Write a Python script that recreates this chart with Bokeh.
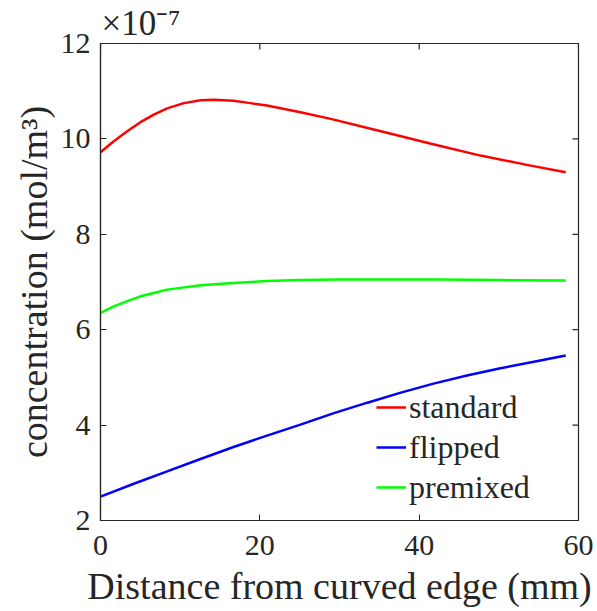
import math
from bokeh.plotting import figure
from bokeh.models import Range1d, Legend, LegendItem, FixedTicker
from bokeh.embed import file_html
from bokeh.resources import INLINE

# distance from curved edge (mm) and concentration (x 1e-7 mol/m^3)
x_standard = [0, 1.67, 3.35, 5.02, 6.69, 8.37, 10.46, 12.55, 14.2, 16.7, 18.8,
              20.9, 25.1, 28.9, 35.2, 41.5, 47.7, 54.0, 58.4]
y_standard = [9.72, 9.95, 10.16, 10.35, 10.51, 10.64, 10.75, 10.81, 10.82, 10.80, 10.75,
              10.70, 10.56, 10.42, 10.16, 9.90, 9.65, 9.44, 9.30]

x_flipped = [0, 4.18, 8.37, 12.55, 16.7, 20.9, 25.1, 29.3, 33.5, 37.7, 41.8,
             46.0, 50.2, 54.4, 58.4]
y_flipped = [2.50, 2.77, 3.03, 3.29, 3.54, 3.78, 4.01, 4.25, 4.47, 4.68, 4.87,
             5.04, 5.19, 5.33, 5.46]

x_premixed = [0, 1.67, 3.35, 5.02, 6.69, 8.37, 12.55, 16.7, 20.9, 25.1, 29.9,
              35.0, 41.9, 50.3, 58.4]
y_premixed = [6.35, 6.49, 6.60, 6.70, 6.77, 6.84, 6.93, 6.98, 7.02, 7.04, 7.05,
              7.05, 7.05, 7.04, 7.03]

x_ticks = [0, 20, 40, 60]
y_ticks = [2, 4, 6, 8, 10, 12]
series_names = ["standard", "flipped", "premixed"]
exponent_text = "×10⁻⁷"

FONT = "Liberation Serif"
AX = "#262626"

p = figure(width=597, height=611, output_backend="svg", toolbar_location=None,
           x_range=Range1d(0, 60), y_range=Range1d(2, 12),
           min_border_left=100, min_border_right=19, min_border_top=43, min_border_bottom=91)
p.grid.visible = False
p.outline_line_color = AX
p.outline_line_width = 1.2

p.title.text = exponent_text
p.title.text_font = FONT
p.title.text_font_size = "35px"
p.title.text_font_style = "normal"
p.title.text_color = AX
p.title.align = "left"
p.title.offset = 1
p.title.standoff = 1

for ax in (p.xaxis[0], p.yaxis[0]):
    ax.axis_line_color = AX
    ax.axis_line_width = 1.2
    ax.major_tick_line_color = AX
    ax.major_tick_in = 6
    ax.major_tick_out = 0
    ax.minor_tick_line_color = None
    ax.major_label_text_font = FONT
    ax.major_label_text_font_size = "30px"
    ax.major_label_text_color = AX
    ax.axis_label_text_font = FONT
    ax.axis_label_text_font_size = "38px"
    ax.axis_label_text_font_style = "normal"
    ax.axis_label_text_color = AX

p.xaxis[0].ticker = FixedTicker(ticks=x_ticks)
p.yaxis[0].ticker = FixedTicker(ticks=y_ticks)
p.xaxis[0].axis_label = "Distance from curved edge (mm)"
p.yaxis[0].axis_label = "concentration (mol/m³)"
p.xaxis[0].major_label_standoff = 15
p.yaxis[0].major_label_standoff = 10
p.xaxis[0].axis_label_standoff = 7
p.yaxis[0].axis_label_standoff = 3

# inward ticks on the top and right edges of the box
p.ray(x=x_ticks, y=[12] * len(x_ticks), length=6, length_units="screen",
      angle=-math.pi / 2, line_color=AX, line_width=1.2)
p.ray(x=[60] * len(y_ticks), y=y_ticks, length=6, length_units="screen",
      angle=math.pi, line_color=AX, line_width=1.2)

r1 = p.line(x_standard, y_standard, line_color="#ff0000", line_width=2.5)
r2 = p.line(x_flipped, y_flipped, line_color="#0000ff", line_width=2.5)
r3 = p.line(x_premixed, y_premixed, line_color="#00ff00", line_width=2.5)

legend = Legend(items=[LegendItem(label=series_names[0], renderers=[r1]),
                       LegendItem(label=series_names[1], renderers=[r2]),
                       LegendItem(label=series_names[2], renderers=[r3])],
                location=(276, 13))
legend.border_line_color = None
legend.background_fill_alpha = 0
legend.label_text_font = FONT
legend.label_text_font_size = "32px"
legend.label_text_color = AX
legend.glyph_width = 30
legend.label_standoff = 3
legend.spacing = 0
legend.padding = 0
legend.margin = 0
legend.label_height = 40
legend.glyph_height = 40
p.add_layout(legend)

open("out.html", "w").write(file_html(p, INLINE))
